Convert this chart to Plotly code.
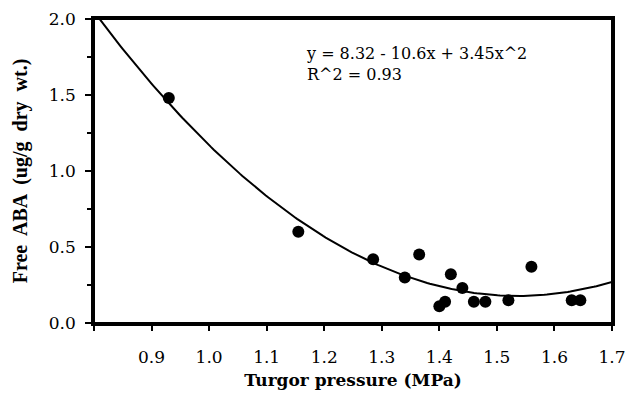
import numpy as np
import plotly.graph_objects as go

# Measured turgor pressure (MPa) and free ABA content (ug/g dry wt.)
turgor = [0.93, 1.155, 1.285, 1.34, 1.365, 1.40, 1.41, 1.42, 1.44, 1.46, 1.48, 1.52, 1.56, 1.63, 1.645]
free_aba = [1.48, 0.60, 0.42, 0.30, 0.45, 0.11, 0.14, 0.32, 0.23, 0.14, 0.14, 0.15, 0.37, 0.15, 0.15]

# Quadratic fit: y = c0 + c1*x + c2*x^2
fit_coef = [8.32, -10.6, 3.45]
fit_r2 = 0.93

x_ticks = [0.8, 0.9, 1.0, 1.1, 1.2, 1.3, 1.4, 1.5, 1.6, 1.7]
x_tick_labels = ["", "0.9", "1.0", "1.1", "1.2", "1.3", "1.4", "1.5", "1.6", "1.7"]
y_ticks = [0.0, 0.5, 1.0, 1.5, 2.0]
y_tick_labels = ["0.0", "0.5", "1.0", "1.5", "2.0"]

xf = np.linspace(0.8, 1.7, 200)
yf = fit_coef[0] + fit_coef[1] * xf + fit_coef[2] * xf ** 2

serif = "DejaVu Serif"

fig = go.Figure()
fig.add_trace(go.Scatter(x=xf, y=yf, mode="lines",
                         line=dict(color="black", width=2), hoverinfo="skip"))
fig.add_trace(go.Scatter(x=turgor, y=free_aba, mode="markers",
                         marker=dict(color="black", size=12, line=dict(width=0))))

eq_text = (f"y = {fit_coef[0]:.2f} - {abs(fit_coef[1]):.1f}x + {fit_coef[2]:.2f}x^2"
           f"<br>R^2 = {fit_r2:.2f}")
fig.add_annotation(x=0.406, y=0.925, xref="paper", yref="paper",
                   xanchor="left", yanchor="top", align="left", showarrow=False,
                   text=eq_text, font=dict(family=serif, size=16, color="black"))

# frame around the plotting area
fig.add_shape(type="rect", xref="x domain", yref="y domain", x0=0, y0=0, x1=1, y1=1,
              line=dict(color="black", width=2), layer="above")

fig.update_layout(
    width=625, height=393,
    margin=dict(l=94, r=13, t=19, b=70),
    paper_bgcolor="white", plot_bgcolor="white",
    showlegend=False,
    xaxis=dict(
        range=[0.8, 1.7], tickvals=x_ticks, ticktext=x_tick_labels,
        automargin=False, ticklabeloverflow="allow",
        showgrid=False, zeroline=False,
        showline=True, linecolor="black", linewidth=2.5, mirror=True,
        ticks="outside", ticklen=5, tickwidth=2, tickcolor="black",
        ticklabelstandoff=12,
        tickfont=dict(family=serif, size=17, color="black"),
        title=dict(text="<b>Turgor pressure (MPa)</b>", standoff=8,
                   font=dict(family=serif, size=17, color="black")),
    ),
    yaxis=dict(
        range=[0, 2], tickvals=y_ticks, ticktext=y_tick_labels,
        automargin=False, ticklabeloverflow="allow",
        showgrid=False, zeroline=False,
        showline=True, linecolor="black", linewidth=2.5, mirror=True,
        ticks="outside", ticklen=6, tickwidth=2, tickcolor="black",
        ticklabelstandoff=6,
        tickfont=dict(family=serif, size=17, color="black"),
        minor=dict(dtick=0.25, ticks="outside", ticklen=4, tickwidth=2, tickcolor="black"),
        title=dict(text="<b>Free  ABA  (ug/g  dry  wt.)</b>", standoff=16,
                   font=dict(family="Liberation Serif", size=20, color="black")),
    ),
)

fig.write_html("out.html")
